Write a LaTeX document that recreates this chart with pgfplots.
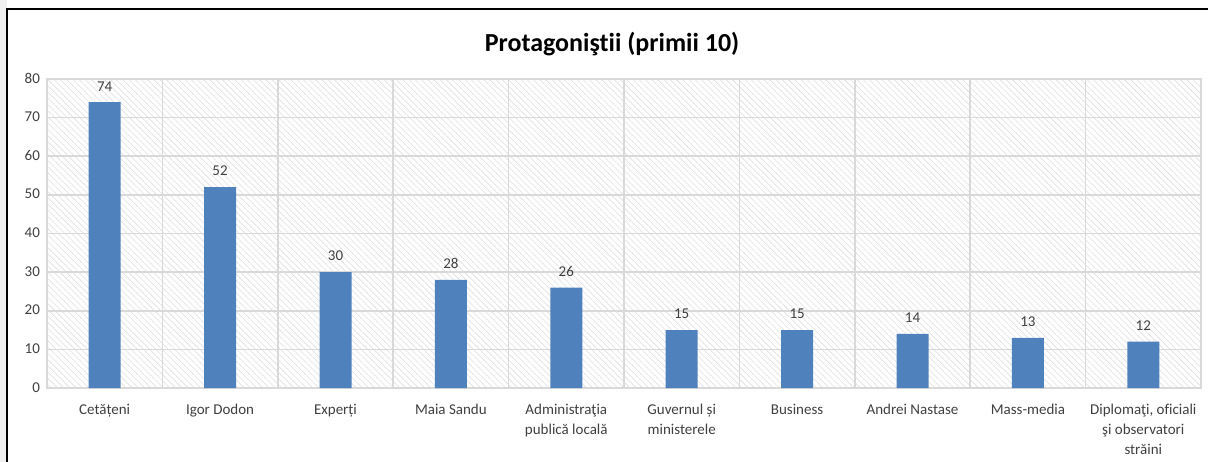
\documentclass[border=0pt]{standalone}
\usepackage{fontspec}
\setmainfont{Carlito}[Ligatures={TeX,NoCommon}]
\usepackage{pgfplots}
\pgfplotsset{compat=1.18}
\usetikzlibrary{patterns.meta}
\definecolor{BarBlue}{HTML}{4F81BD}
\definecolor{GridGray}{HTML}{D9D9D9}
\definecolor{TextGray}{HTML}{404040}

\begin{document}
\begin{tikzpicture}
\begin{axis}[
  scale only axis, width=577pt, height=154.5pt,
  ymin=0, ymax=80, ytick={0,10,...,80},
  xmin=-0.5, xmax=9.5, xtick={0,...,9},
  minor xtick={-0.5,0.5,...,9.5},
  xticklabels={Cetățeni, Igor Dodon, Experți, Maia Sandu,
    {Administraţia\\publică locală}, {Guvernul și\\ministerele}, Business,
    Andrei Nastase, Mass-media, {Diplomaţi, oficiali\\şi observatori\\străini}},
  typeset ticklabels with strut,
  xminorgrids, ymajorgrids,
  grid style={draw=GridGray, line width=0.8pt},
  minor grid style={draw=GridGray, line width=0.8pt},
  axis line style={draw=GridGray, line width=0.8pt},
  major tick length=0pt, minor tick length=0pt,
  axis background/.style={pattern={Lines[angle=-45,distance=2.2pt,line width=0.3pt]},
    pattern color=black!13},
  /pgf/number format/assume math mode=true,
  tick label style={font=\fontsize{7.5}{10}\selectfont, text=TextGray},
  xticklabel style={align=center, yshift=-2.5pt},
  title={Protagoniştii (primii 10)},
  title style={font=\bfseries\fontsize{13}{15}\selectfont, at={(0.5,1)},
    anchor=center, yshift=11.5pt, xshift=-6pt},
  ybar, bar width=16pt,
  nodes near coords,
  every node near coord/.append style={font=\fontsize{7.5}{10}\selectfont,
    text=TextGray, yshift=2pt},
]
\addplot[fill=BarBlue, draw=none] coordinates
{(0,74)(1,52)(2,30)(3,28)(4,26)(5,15)(6,15)(7,14)(8,13)(9,12)};
\end{axis}
\fill[black!6] (-23.5pt,-40pt) rectangle (-20pt,194pt);
\draw[line width=0.9pt] (-20pt,-40pt) -- (-20pt,189.5pt) -- (590pt,189.5pt);
\pgfresetboundingbox
\path[use as bounding box] (-23.5pt,-36.5pt) rectangle (580.5pt,194pt);
\end{tikzpicture}
\end{document}
